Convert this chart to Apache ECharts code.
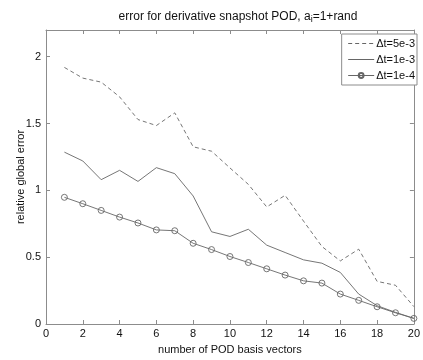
<!DOCTYPE html>
<html>
<head>
<meta charset="utf-8">
<script src="https://cdn.jsdelivr.net/npm/echarts@6/dist/echarts.min.js"></script>
<style>html,body{margin:0;padding:0;background:#fff}#c{width:423px;height:360px}</style>
</head>
<body>
<div id="c"></div>
<script>
const nVectors = [1,2,3,4,5,6,7,8,9,10,11,12,13,14,15,16,17,18,19,20];
const seriesNames = ['\u0394t=5e-3', '\u0394t=1e-3', '\u0394t=1e-4'];
const err5e3 = [1.92,1.84,1.81,1.70,1.53,1.485,1.58,1.326,1.293,1.168,1.045,0.876,0.963,0.77,0.58,0.472,0.56,0.319,0.29,0.13];
const err1e3 = [1.286,1.22,1.08,1.15,1.067,1.17,1.125,0.958,0.69,0.655,0.709,0.59,0.535,0.48,0.455,0.386,0.224,0.137,0.087,0.042];
const err1e4 = [0.948,0.90,0.85,0.80,0.756,0.704,0.698,0.604,0.557,0.505,0.46,0.413,0.366,0.323,0.306,0.224,0.177,0.129,0.084,0.042];
const xTicks = [0,2,4,6,8,10,12,14,16,18,20];
const yTicks = [0,0.5,1,1.5,2];

const font = 'Liberation Sans, Arial, Helvetica, sans-serif';
const lineCol = '#666666';
const axisCol = '#8c8c8c';
const pairs = ys => nVectors.map((x, i) => [x, ys[i]]);

const chart = echarts.init(document.getElementById('c'), null, {renderer: 'canvas'});
const baseX = {
  type: 'value', min: xTicks[0], max: xTicks[xTicks.length - 1], interval: xTicks[1] - xTicks[0],
  axisLine: {show: true, onZero: false, lineStyle: {color: axisCol, width: 1}},
  axisTick: {show: true, inside: true, length: 4, lineStyle: {color: axisCol}},
  splitLine: {show: false}
};
const baseY = {
  type: 'value', min: yTicks[0], max: 2.2, interval: yTicks[1] - yTicks[0],
  axisLine: {show: true, onZero: false, lineStyle: {color: axisCol, width: 1}},
  axisTick: {show: true, inside: true, length: 4, lineStyle: {color: axisCol}},
  splitLine: {show: false}
};
const option = {
  animation: false,
  backgroundColor: '#fff',
  title: {
    text: 'error for derivative snapshot POD, a{sub|i}=1+rand',
    left: 233, textAlign: 'center', top: 4,
    textStyle: {
      fontFamily: font, fontSize: 12, fontWeight: 'normal', color: '#111',
      rich: {sub: {fontFamily: font, fontSize: 9, color: '#111', verticalAlign: 'bottom', padding: [6, 0, 0, 0]}}
    }
  },
  grid: {left: 46, right: 3, top: 30, bottom: 34},
  legend: {
    right: 6, top: 34, orient: 'vertical',
    data: [
      {name: seriesNames[0], itemStyle: {opacity: 0}},
      {name: seriesNames[1], itemStyle: {opacity: 0}},
      {name: seriesNames[2]}
    ],
    itemWidth: 26, itemHeight: 6, itemGap: 5,
    padding: [4, 2, 4, 6],
    lineStyle: {width: 1},
    borderColor: axisCol, borderWidth: 1, backgroundColor: '#fff',
    textStyle: {fontFamily: font, fontSize: 11, color: '#111', padding: [0, 0, 0, -3]}
  },
  xAxis: [
    Object.assign({}, baseX, {
      position: 'bottom',
      name: 'number of POD basis vectors', nameLocation: 'middle', nameGap: 20,
      nameMoveOverlap: false,
      nameTextStyle: {fontFamily: font, fontSize: 11, color: '#111'},
      axisLabel: {fontFamily: font, fontSize: 11, color: '#111', margin: 4}
    }),
    Object.assign({}, baseX, {position: 'top', axisLabel: {show: false}})
  ],
  yAxis: [
    Object.assign({}, baseY, {
      position: 'left',
      name: 'relative global error', nameLocation: 'middle', nameGap: 20,
      nameMoveOverlap: false,
      nameTextStyle: {fontFamily: font, fontSize: 11, color: '#111'},
      axisLabel: {fontFamily: font, fontSize: 11, color: '#111', margin: 5,
        formatter: v => (yTicks.indexOf(v) >= 0 ? String(v) : '')}
    }),
    Object.assign({}, baseY, {position: 'right', axisLabel: {show: false}})
  ],
  series: [
    {name: seriesNames[0], type: 'line', data: pairs(err5e3), symbol: 'none',
     lineStyle: {color: lineCol, width: 0.9, type: [4, 3]}, itemStyle: {color: lineCol}},
    {name: seriesNames[1], type: 'line', data: pairs(err1e3), symbol: 'none',
     lineStyle: {color: lineCol, width: 0.9}, itemStyle: {color: lineCol}},
    {name: seriesNames[2], type: 'line', data: pairs(err1e4), symbol: 'circle', symbolSize: 6,
     lineStyle: {color: lineCol, width: 0.9},
     itemStyle: {color: 'rgba(0,0,0,0)', borderColor: lineCol, borderWidth: 0.9}}
  ]
};
chart.setOption(option);
</script>
</body>
</html>
